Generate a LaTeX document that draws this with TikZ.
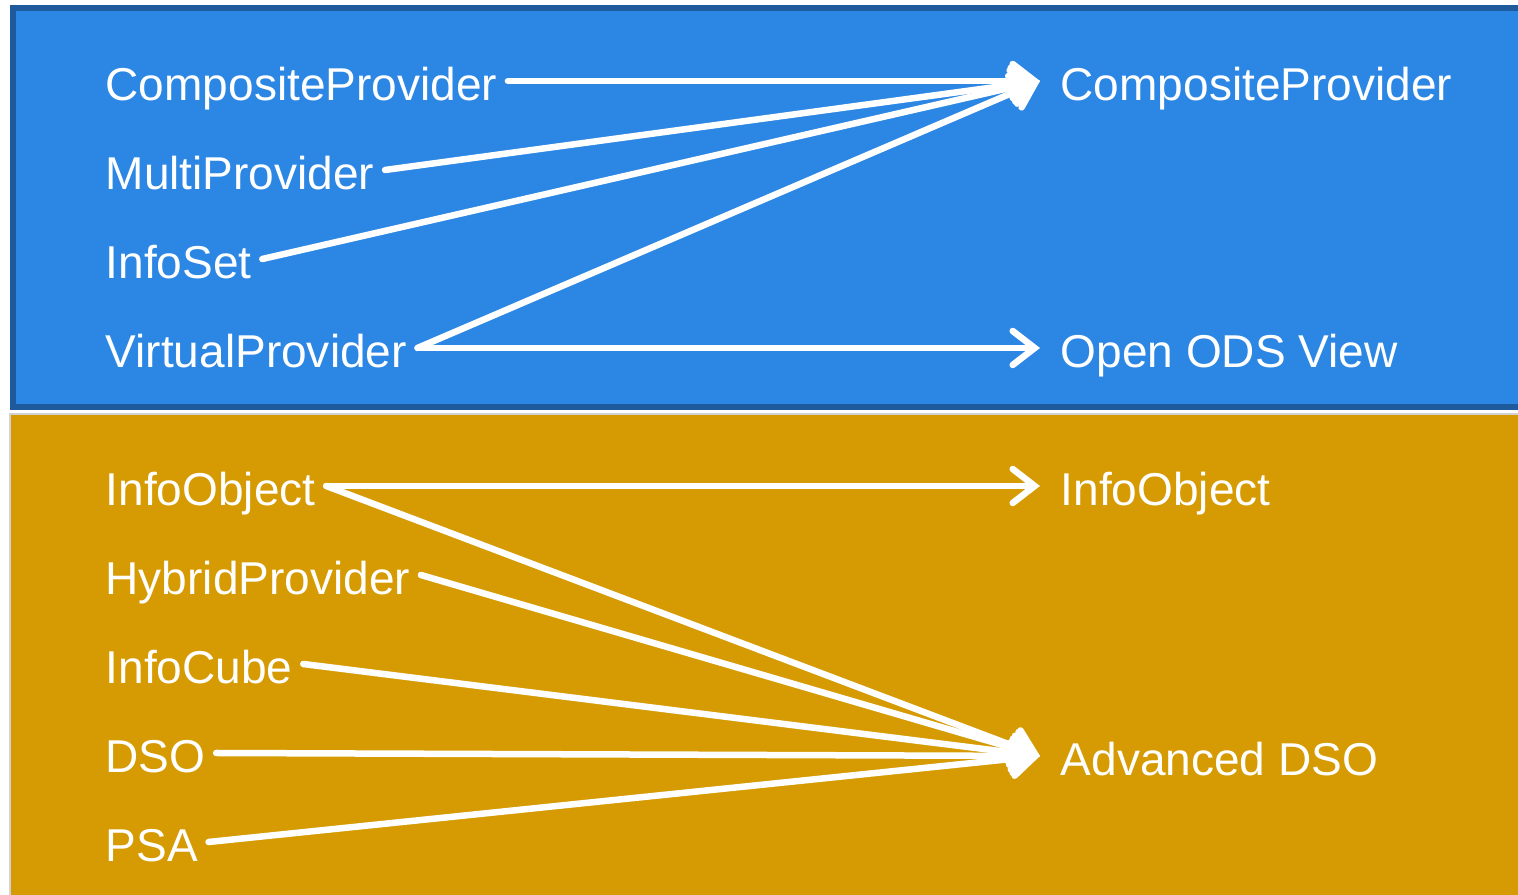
\documentclass[tikz,border=0pt]{standalone}
\usepackage{fontspec}
\setmainfont{Liberation Sans}
\usetikzlibrary{arrows.meta}
\definecolor{bwblue}{HTML}{2C87E4}
\definecolor{bwborder}{HTML}{1F5A9C}
\definecolor{bworange}{HTML}{D69B02}

\begin{document}
\begin{tikzpicture}
\useasboundingbox (0,0) rectangle (15.18,8.95);
\fill[white] (0,0) rectangle (15.18,8.95);
\draw[bwborder, fill=bwblue, line width=0.06cm] (0.13,8.87) rectangle (15.4,4.88);
\draw[gray!35, fill=bworange, line width=0.4pt] (0.10,4.81) rectangle (15.4,-0.2);
\tikzstyle{every node} = [text=white, font=\fontsize{13.1}{15}\selectfont, anchor=base west, text height=0.42cm, text depth=0.02cm]
\tikzstyle{src} = [inner xsep=0.1cm]
\tikzstyle{dst} = [inner xsep=0.2cm]
\tikzstyle{link} = [white, line width=0.065cm, line cap=round, -{Straight Barb[length=0.22cm, width=0.34cm, line cap=round]}]
% old objects
\node[src] (cp) at (0.95, 7.94) {CompositeProvider};
\node[src] (mp) at (0.95, 7.05) {MultiProvider};
\node[src] (is) at (0.95, 6.16) {InfoSet};
\node[src] (vp) at (0.95, 5.27) {VirtualProvider};
\node[src] (io) at (0.95, 3.89) {InfoObject};
\node[src] (hp) at (0.95, 3.00) {HybridProvider};
\node[src] (ic) at (0.95, 2.11) {InfoCube};
\node[src] (dso) at (0.95, 1.22) {DSO};
\node[src] (psa) at (0.95, 0.33) {PSA};
% new objects
\node[dst] (ncp) at (10.40, 7.94) {CompositeProvider};
\node[dst] (oods) at (10.40, 5.27) {Open ODS View};
\node[dst] (nio) at (10.40, 3.89) {InfoObject};
\node[dst] (adso) at (10.40, 1.19) {Advanced DSO};
\foreach \from/\to in {cp/ncp, mp/ncp, is/ncp, vp/ncp, vp/oods, io/nio, io/adso, hp/adso, ic/adso, dso/adso, psa/adso}
\draw [link] (\from.east) -- (\to.west);
\end{tikzpicture}
\end{document}
